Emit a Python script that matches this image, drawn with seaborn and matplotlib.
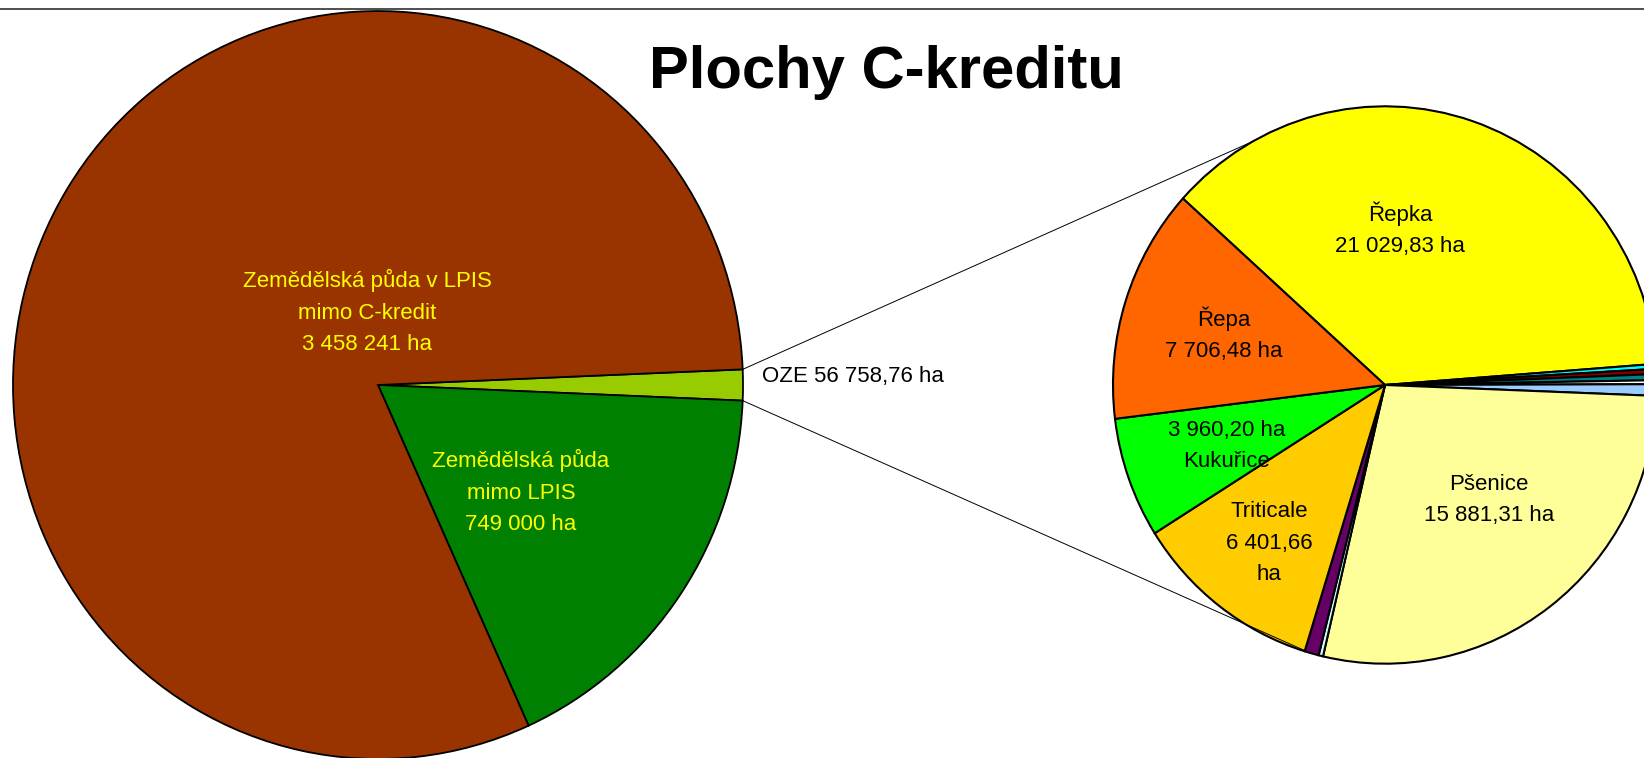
import matplotlib
matplotlib.use("Agg")
import numpy as np
import matplotlib.pyplot as plt
import seaborn as sns

# ---------------- data ----------------
left_categories = ["OZE", "Zemědělská půda mimo LPIS", "Zemědělská půda v LPIS mimo C-kredit"]
left_values = [56758.76, 749000, 3458241]
left_labels = ["OZE 56 758,76 ha",
               "Zemědělská půda\nmimo LPIS\n749 000 ha",
               "Zemědělská půda v LPIS\nmimo C-kredit\n3 458 241 ha"]

right_categories = ["Řepka", "ostatní 1", "ostatní 2", "ostatní 3", "ostatní 4", "ostatní 5",
                    "Pšenice", "ostatní 6", "ostatní 7", "Triticale", "Kukuřice", "Řepa"]
right_values = [21029.83, 160, 170, 200, 130, 380,
                15881.31, 150, 480, 6401.66, 3960.20, 7706.48]
right_labels = ["Řepka\n21 029,83 ha", "", "", "", "", "",
                "Pšenice\n15 881,31 ha", "", "", "Triticale\n6 401,66\nha",
                "3 960,20 ha\nKukuřice", "Řepa\n7 706,48 ha"]

title = "Plochy C-kreditu"

# ---------------- styles / layout ----------------
left_colors = ["#99CC00", "#008000", "#993300"]
left_text_colors = ["black", "#FFFF00", "#FFFF00"]
right_colors = ["#FFFF00", "#00FFFF", "#800000", "#008080", "#FFFFFF", "#99CCFF",
                "#FFFF99", "#CCFFFF", "#660066", "#FFCC00", "#00FF00", "#FF6600"]

W, H = 1644, 758
S = 0.976  # vertical squash so pies look like the slightly tall ellipses of the original

def P(x, y):
    return (x, (H - y) * S)

left_center_px, left_r = (378, 385), 365
right_center_px, right_r = (1385, 385), 272
left_label_pos = [(762, 377), (521, 492), (367, 312)]
right_label_pos = {0: (1400, 229), 6: (1489, 500), 9: (1269, 543), 10: (1227, 446), 11: (1224, 334)}
connector_end_angles = (119, 254)

sns.set_theme(style="white", rc={"text.color": "black"})
plt.rcParams['font.family'] = ['Liberation Sans', 'DejaVu Sans']

fig = plt.figure(figsize=(W / 100, H / 100), dpi=100)
ax = fig.add_axes([0, 0, 1, 1])

lc = P(*left_center_px)
start_left = 180.0 * left_values[0] / sum(left_values)
lw, _ = ax.pie(left_values, colors=left_colors, startangle=start_left, counterclock=False,
               center=lc, radius=left_r,
               wedgeprops=dict(edgecolor="black", linewidth=1.3))

rc = P(*right_center_px)
rw, _ = ax.pie(right_values, colors=right_colors, startangle=138, counterclock=False,
               center=rc, radius=right_r,
               wedgeprops=dict(edgecolor="black", linewidth=1.5))

ax.set_xlim(0, W)
ax.set_ylim(0, H * S)
ax.set_aspect("auto")
ax.axis("off")

# connector lines
oze = lw[0]
for a_start, a_end in zip((oze.theta2, oze.theta1), connector_end_angles):
    x0 = lc[0] + left_r * np.cos(np.radians(a_start))
    y0 = lc[1] + left_r * np.sin(np.radians(a_start))
    x1 = rc[0] + right_r * np.cos(np.radians(a_end))
    y1 = rc[1] + right_r * np.sin(np.radians(a_end))
    ax.plot([x0, x1], [y0, y1], color="black", lw=0.7, zorder=3)

fs = 16
ls = 1.65
for i, lab in enumerate(left_labels):
    x, y = P(*left_label_pos[i])
    ax.text(x, y, lab, color=left_text_colors[i], fontsize=fs, linespacing=ls,
            ha="left" if i == 0 else "center", va="center", multialignment="center")

for i, pos in right_label_pos.items():
    x, y = P(*pos)
    ax.text(x, y, right_labels[i], color="black", fontsize=fs, linespacing=ls,
            ha="center", va="center", multialignment="center")

ax.text(*P(886, 73), title, color="black", fontsize=43, fontweight="bold",
        ha="center", va="center")

# top border line
ax.plot([0, W], [P(0, 9)[1]] * 2, color="#303030", lw=1.2, clip_on=False)

fig.savefig("out.png", dpi=100)
